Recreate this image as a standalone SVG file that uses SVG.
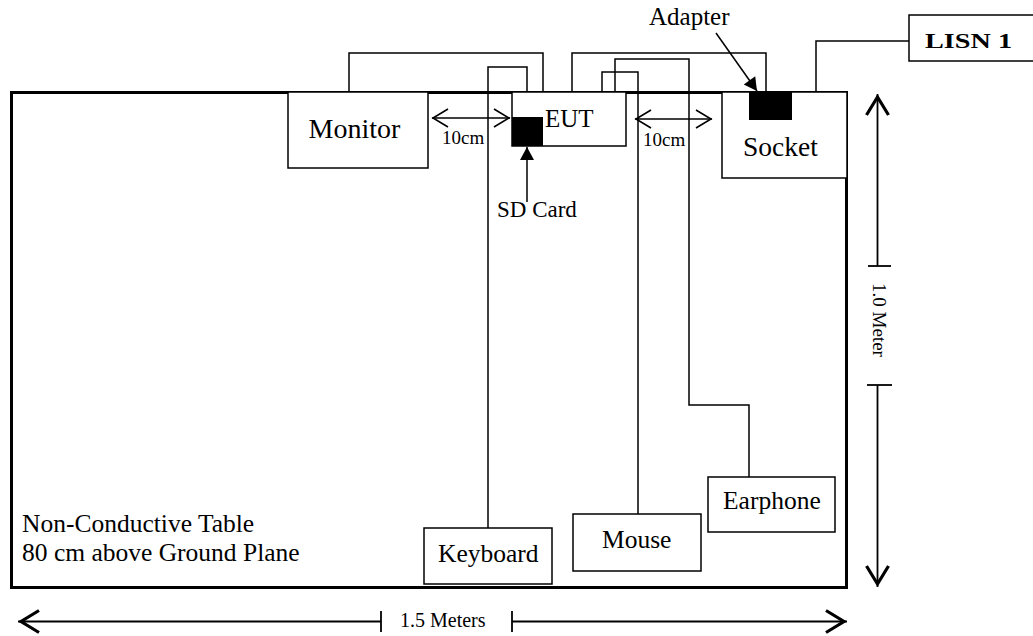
<svg xmlns="http://www.w3.org/2000/svg" width="1033" height="636" viewBox="0 0 1033 636">
<style>
text{font-family:"Liberation Serif","Times New Roman",serif;fill:#000}
.box{fill:#fff;stroke:#000;stroke-width:1.5}
.blk{fill:#000;stroke:none}
.w{fill:none;stroke:#000;stroke-width:1.5}
.dim{fill:none;stroke:#000;stroke-width:1.8}
.t{font-size:25.5px}
</style>
<defs>
<marker id="big" markerUnits="userSpaceOnUse" markerWidth="40" markerHeight="40" viewBox="-30 -15 40 30" refX="0" refY="0" orient="auto" overflow="visible">
<path d="M-21,-11 L-3,0 L-21,11" fill="none" stroke="#000" stroke-width="3.2"/>
</marker>
<marker id="thin" markerUnits="userSpaceOnUse" markerWidth="30" markerHeight="30" viewBox="-20 -12 30 24" refX="0" refY="0" orient="auto-start-reverse" overflow="visible">
<path d="M-16,-9 L-1,0 L-16,9" fill="none" stroke="#000" stroke-width="1.6"/>
</marker>
<marker id="fill" markerUnits="userSpaceOnUse" markerWidth="30" markerHeight="30" viewBox="-20 -12 30 24" refX="0" refY="0" orient="auto" overflow="visible">
<path d="M0,0 L-13,-7 L-13,7 Z" fill="#000"/>
</marker>
</defs>
<rect width="1033" height="636" fill="#fff"/>

<g id="table">
<rect x="11.5" y="92.5" width="835" height="495" fill="#fff" stroke="#000" stroke-width="3"/>
<text class="t" x="22" y="532">Non-Conductive Table</text>
<text class="t" x="22" y="561">80 cm above Ground Plane</text>
</g>

<g id="connectors">
<path class="w" d="M349,92 V53 H543 V92"/>
<path class="w" d="M488,528 V67 H527 V92"/>
<path class="w" d="M572,92 V53 H766 V92"/>
<path class="w" d="M602,92 V72 H638 V514"/>
<path class="w" d="M615,92 V59 H689 V405 H749 V477"/>
<path class="w" d="M816,92 V41 H909"/>
<line class="w" x1="527" y1="202" x2="527" y2="147" marker-end="url(#fill)"/>
<line class="w" x1="716" y1="33" x2="757" y2="91" marker-end="url(#fill)"/>
</g>

<g id="monitor">
<rect class="box" x="288" y="92" width="140" height="76"/>
<text x="354.5" y="138" font-size="28" text-anchor="middle">Monitor</text>
</g>
<g id="eut">
<rect class="box" x="512" y="92" width="114" height="54"/>
<text x="545" y="127" font-size="25">EUT</text>
</g>
<g id="sdcard">
<rect class="blk" x="512" y="117" width="31" height="29"/>
<text x="497" y="217" font-size="23">SD Card</text>
</g>
<g id="socket">
<rect class="box" x="722" y="92" width="125" height="86"/>
<text x="743" y="156" font-size="27.5">Socket</text>
</g>
<g id="adapter">
<rect class="blk" x="749" y="92" width="43" height="28"/>
<text x="649" y="25" font-size="25">Adapter</text>
</g>
<g id="lisn">
<rect class="box" x="909" y="15" width="126" height="46"/>
<text x="925" y="48" font-size="22" font-weight="bold" textLength="87" lengthAdjust="spacingAndGlyphs">LISN 1</text>
</g>
<g id="keyboard">
<rect class="box" x="424" y="528" width="128" height="56"/>
<text class="t" x="438" y="562">Keyboard</text>
</g>
<g id="mouse">
<rect class="box" x="573" y="514" width="128" height="57"/>
<text class="t" x="602" y="548">Mouse</text>
</g>
<g id="earphone">
<rect class="box" x="708" y="477" width="127" height="55"/>
<text class="t" x="723" y="509">Earphone</text>
</g>

<g id="dimensions">
<line class="w" x1="432" y1="118" x2="510" y2="118" marker-start="url(#thin)" marker-end="url(#thin)"/>
<text x="442" y="144" font-size="19">10cm</text>
<line class="w" x1="635" y1="119" x2="712" y2="119" marker-start="url(#thin)" marker-end="url(#thin)"/>
<text x="643" y="146" font-size="19">10cm</text>

<line class="dim" x1="381" y1="621.5" x2="18" y2="621.5" marker-end="url(#big)"/>
<line class="dim" x1="381" y1="611" x2="381" y2="632"/>
<line class="dim" x1="512" y1="621.5" x2="847" y2="621.5" marker-end="url(#big)"/>
<line class="dim" x1="512" y1="611" x2="512" y2="632"/>
<text x="400" y="627" font-size="20">1.5 Meters</text>

<line class="dim" x1="877.5" y1="266" x2="877.5" y2="94" marker-end="url(#big)"/>
<line class="dim" x1="868" y1="266" x2="891" y2="266"/>
<line class="dim" x1="877.5" y1="385" x2="877.5" y2="587" marker-end="url(#big)"/>
<line class="dim" x1="867" y1="385" x2="892" y2="385"/>
<text x="873" y="320" font-size="19" text-anchor="middle" transform="rotate(90 873 320)">1.0 Meter</text>
</g>
</svg>
